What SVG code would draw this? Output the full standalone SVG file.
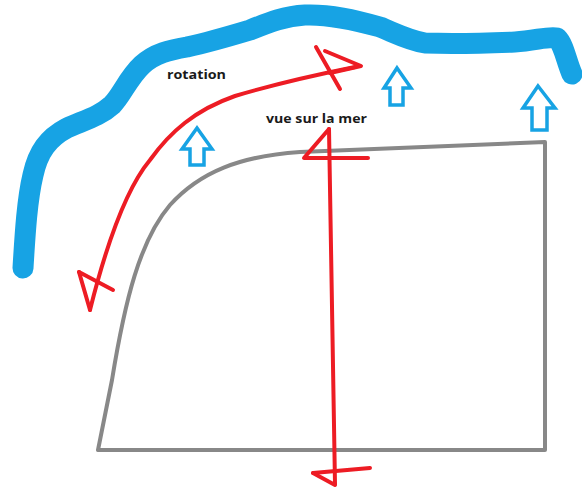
<svg xmlns="http://www.w3.org/2000/svg" width="582" height="489" viewBox="0 0 582 489">
<style>
.sea{fill:none;stroke:#17a3e4;stroke-width:21;stroke-linecap:round;stroke-linejoin:round}
.red{fill:none;stroke:#ed1c24;stroke-width:4;stroke-linecap:round;stroke-linejoin:round}
.grey{fill:none;stroke:#888888;stroke-width:4;stroke-linejoin:round}
.up{fill:#ffffff;stroke:#17a3e4;stroke-width:3.5;stroke-linejoin:miter}
.lbl{font-family:"Open Sans","Liberation Sans",sans-serif;font-weight:bold;font-size:13px;fill:#1a1a1a}
</style>
<rect width="582" height="489" fill="#ffffff"/>
<path class="sea" d="M23,268 C25,235 27,200 33,175 C38,152 48,138 67,128 C85,120 100,116 112,105 C122,95 128,78 142,65 C155,53 170,50 187,47 C210,42 230,36 250,30 C270,22 285,16 305,15 C330,14 355,20 380,27 C395,33 408,40 425,43 C455,44 490,43 515,42 C535,41 548,36 557,38 C564,45 566,60 572,74"/>
<path class="grey" d="M98,450 L545,450 L545,142 L300,152 C240,156 200,172 170,205 C140,240 125,300 112,380 Z"/>
<g id="arrow-up-1"><path class="up" d="M197,128 L212,149 L204,149 L204,165 L190,165 L190,149 L182,149 Z"/></g>
<g id="arrow-up-2"><path class="up" d="M397,68 L411,88 L403,88 L403,105 L390,105 L390,88 L384,88 Z"/></g>
<g id="arrow-up-3"><path class="up" d="M538,86 L555,108 L547,108 L547,130 L532,130 L532,108 L523,108 Z"/></g>
<g id="connectors">
<path class="red" d="M90,310 C105,250 125,190 150,160 C170,132 195,110 235,96 C265,87 300,78 355,67"/>
<path class="red" d="M79,272 L90,310"/>
<path class="red" d="M79,272 L113,290"/>
<path class="red" d="M325,51 L361,66 L330,73"/>
<path class="red" d="M316,47 L340,89"/>
<path class="red" d="M329,129 L335,484"/>
<path class="red" d="M329,129 L304,158 L368,158"/>
<path class="red" d="M313,473 L335,485"/>
<path class="red" d="M313,473 L370,468"/>
</g>
<text class="lbl" x="167" y="79" textLength="59" lengthAdjust="spacingAndGlyphs">rotation</text>
<text class="lbl" x="266" y="123" textLength="101" lengthAdjust="spacingAndGlyphs">vue sur la mer</text>
</svg>
